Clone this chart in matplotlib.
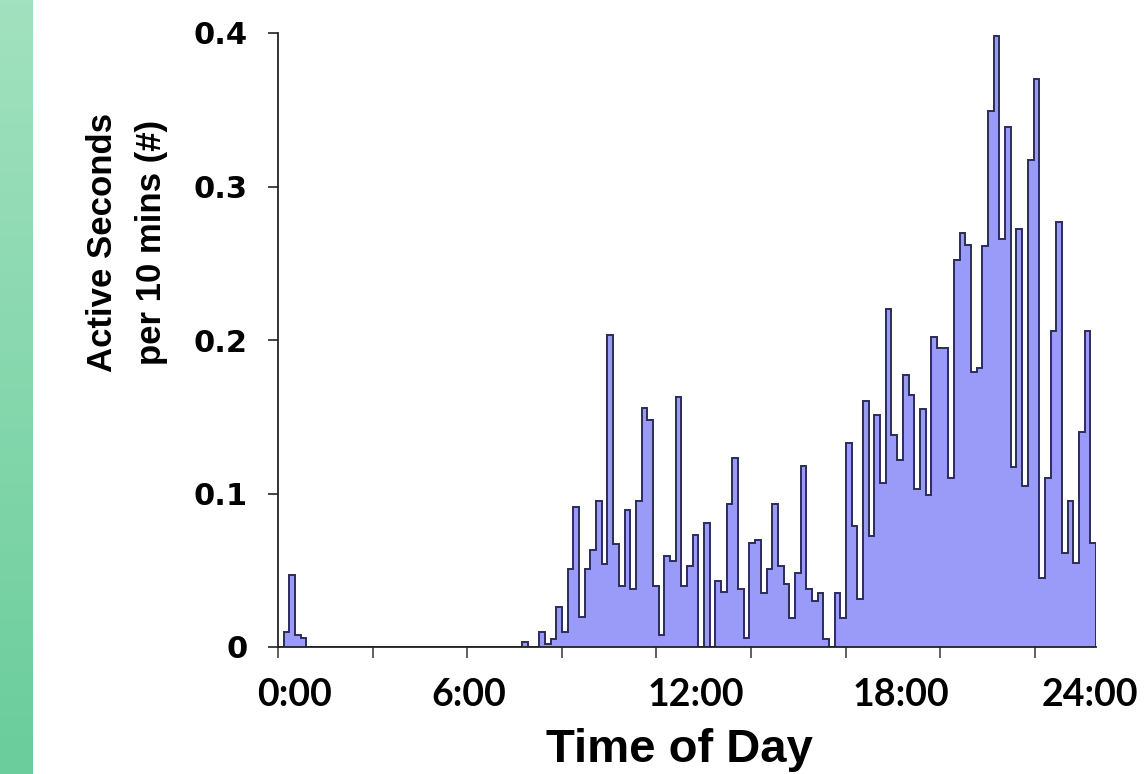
import numpy as np
import matplotlib.pyplot as plt
from matplotlib.colors import LinearSegmentedColormap
from matplotlib.transforms import blended_transform_factory

# active seconds per 10 min bin, 144 bins = 24 h
vals_night = [0.0, 0.010, 0.047, 0.008, 0.006,
              0, 0, 0, 0, 0, 0, 0, 0, 0, 0, 0, 0, 0, 0, 0, 0, 0, 0, 0,
              0, 0, 0, 0, 0, 0, 0, 0, 0, 0, 0, 0, 0, 0, 0, 0, 0, 0, 0,
              0.003, 0.0, 0.0]
vals_day = [0.0095, 0.002, 0.005, 0.026, 0.0095, 0.051, 0.091, 0.0195, 0.051, 0.063,
            0.095, 0.054, 0.203, 0.067, 0.040, 0.089, 0.038, 0.095, 0.156, 0.148,
            0.040, 0.008, 0.059, 0.056, 0.163, 0.040, 0.053, 0.073, 0.0, 0.081,
            0.0, 0.043, 0.036, 0.093, 0.123, 0.038, 0.006, 0.068, 0.070, 0.035,
            0.051, 0.093, 0.053, 0.041, 0.019, 0.048, 0.118, 0.038, 0.030, 0.035,
            0.005, 0.0, 0.035, 0.019, 0.133, 0.079, 0.031, 0.160, 0.072, 0.151,
            0.107, 0.220, 0.138, 0.122, 0.177, 0.164, 0.103, 0.155, 0.099, 0.202,
            0.195, 0.195, 0.110, 0.252, 0.270, 0.262, 0.179, 0.182, 0.261, 0.349,
            0.398, 0.266, 0.339, 0.117, 0.272, 0.105, 0.317, 0.370, 0.045, 0.110,
            0.206, 0.277, 0.061, 0.095, 0.055, 0.140, 0.206, 0.068]
values = np.array(vals_night + vals_day)

hour_labels = ['0:00', '6:00', '12:00', '18:00', '24:00']
y_ticks = [0, 0.1, 0.2, 0.3, 0.4]
y_labels = ['0', '0.1', '0.2', '0.3', '0.4']

W, H = 1147, 774
fig = plt.figure(figsize=(W / 100, H / 100), dpi=100)

# green strip on the left edge
strip = fig.add_axes([0, 0, 33 / W, 1])
grad = np.linspace(0, 1, 256).reshape(-1, 1)
strip.imshow(grad, aspect='auto', cmap=LinearSegmentedColormap.from_list('g', ['#a2e1bf', '#6acd9b']))
strip.axis('off')

ax = fig.add_axes([278 / W, (H - 647) / H, 818 / W, 614 / H])
edges = np.arange(len(values) + 1) / 6.0
ax.stairs(values, edges, fill=True, facecolor='#9a9af8', edgecolor='#2c2c5c', linewidth=1.4)

ax.set_xlim(0, 24)
ax.set_ylim(0, 0.4)
for s in ['top', 'right']:
    ax.spines[s].set_visible(False)
for s in ['left', 'bottom']:
    ax.spines[s].set_linewidth(1.3)
    ax.spines[s].set_color('#222222')

ax.set_yticks(y_ticks, labels=y_labels)
ax.tick_params(axis='y', length=7, width=1.2, color='#222222', pad=15)
for t in ax.get_yticklabels():
    t.set_fontfamily('DejaVu Sans')
    t.set_fontweight('bold')
    t.set_fontsize(22)

# tick marks on x (spacing as in the original, unlabeled)
ax.set_xticks(np.arange(9) * 24 / 8.645)
ax.set_xticklabels([])
ax.tick_params(axis='x', length=8, width=1.2, color='#444444')

# hand-placed hour labels
label_x = [0.50, 5.60, 12.26, 18.28, 23.83]
trans = blended_transform_factory(ax.transData, fig.transFigure)
for x, lab in zip(label_x, hour_labels):
    ax.text(x, 1 - 706 / H, lab, transform=trans, ha='center', va='baseline',
            fontsize=27, fontweight='bold', family='Lato')

fig.text(679 / W, 1 - 762 / H, 'Time of Day', ha='center', va='baseline',
         fontsize=34, fontweight='bold', family='Liberation Sans')
fig.text(127 / W, 1 - 242 / H, 'Active Seconds\nper 10 mins (#)', rotation=90,
         ha='center', va='center', multialignment='center', linespacing=1.6,
         fontsize=25, fontweight='bold', family='Liberation Sans')

fig.savefig('out.png', dpi=100)
